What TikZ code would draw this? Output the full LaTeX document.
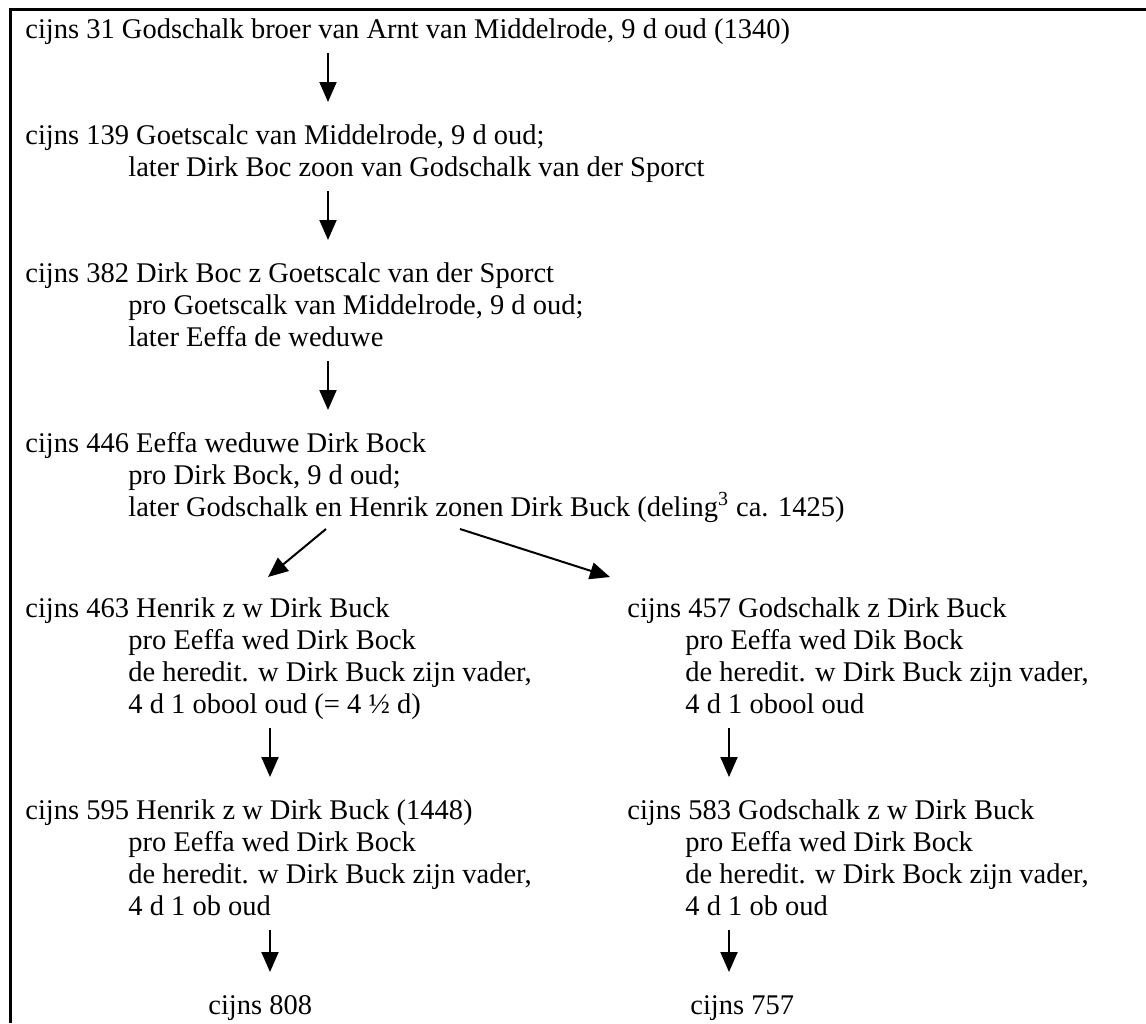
\documentclass[tikz,border=0pt]{standalone}
\usepackage{fontspec}
\setmainfont{Liberation Serif}
\usetikzlibrary{arrows.meta}
\begin{document}
\begin{tikzpicture}[x=0.5pt,y=-0.5pt,
  ln/.style={anchor=base west, inner sep=0pt, font=\fontsize{14.25}{16}\selectfont},
  arr/.style={line width=1pt, -{Triangle[length=10pt,width=8.5pt]}}]
\useasboundingbox (0,0) rectangle (1146,1023);
\draw[line width=1.5pt] (10,1023) -- (10,9.5) -- (1146,9.5);
% block 1
\node[ln] (l1) at (25,38) {cijns 31 Godschalk broer van Arnt van Middelrode, 9 d oud (1340)};
% block 2
\node[ln] (b2a) at (25,144) {cijns 139 Goetscalc van Middelrode, 9 d oud;};
\node[ln] (b2b) at (128,176) {later Dirk Boc zoon van Godschalk van der Sporct};
% block 3
\node[ln] (b3a) at (25,282) {cijns 382 Dirk Boc z Goetscalc van der Sporct};
\node[ln] (b3b) at (128,314) {pro Goetscalk van Middelrode, 9 d oud;};
\node[ln] (b3c) at (128,346) {later Eeffa de weduwe};
% block 4
\node[ln] (b4a) at (25,452) {cijns 446 Eeffa weduwe Dirk Bock};
\node[ln] (b4b) at (128,484) {pro Dirk Bock, 9 d oud;};
\node[ln] (b4c) at (128,516) {later Godschalk en Henrik zonen Dirk Buck (deling\textsuperscript{3} ca. 1425)};
% block 5 left
\node[ln] (b5la) at (25,617) {cijns 463 Henrik z w Dirk Buck};
\node[ln] (b5lb) at (128,649) {pro Eeffa wed Dirk Bock};
\node[ln] (b5lc) at (128,681) {de heredit. w Dirk Buck zijn vader,};
\node[ln] (b5ld) at (128,713) {4 d 1 obool oud (= 4 ½ d)};
% block 5 right
\node[ln] (b5ra) at (627,617) {cijns 457 Godschalk z Dirk Buck};
\node[ln] (b5rb) at (685,649) {pro Eeffa wed Dik Bock};
\node[ln] (b5rc) at (685,681) {de heredit. w Dirk Buck zijn vader,};
\node[ln] (b5rd) at (685,713) {4 d 1 obool oud};
% block 6 left
\node[ln] (b6la) at (25,819) {cijns 595 Henrik z w Dirk Buck (1448)};
\node[ln] (b6lb) at (128,851) {pro Eeffa wed Dirk Bock};
\node[ln] (b6lc) at (128,883) {de heredit. w Dirk Buck zijn vader,};
\node[ln] (b6ld) at (128,915) {4 d 1 ob oud};
% block 6 right
\node[ln] (b6ra) at (627,819) {cijns 583 Godschalk z w Dirk Buck};
\node[ln] (b6rb) at (685,851) {pro Eeffa wed Dirk Bock};
\node[ln] (b6rc) at (685,883) {de heredit. w Dirk Bock zijn vader,};
\node[ln] (b6rd) at (685,915) {4 d 1 ob oud};
% final
\node[ln] (f1) at (208,1014) {cijns 808};
\node[ln] (f2) at (690,1014) {cijns 757};
% arrow end points
\coordinate (a1s) at (328,53);  \coordinate (a1e) at (328,102);
\coordinate (a2s) at (328,191); \coordinate (a2e) at (328,240);
\coordinate (a3s) at (328,361); \coordinate (a3e) at (328,410);
\coordinate (dls) at (326,529); \coordinate (dle) at (268,577);
\coordinate (drs) at (460,529); \coordinate (dre) at (610,577);
\coordinate (l5s) at (270,728); \coordinate (l5e) at (270,777);
\coordinate (r5s) at (729,728); \coordinate (r5e) at (729,777);
\coordinate (l6s) at (270,930); \coordinate (l6e) at (270,972);
\coordinate (r6s) at (729,930); \coordinate (r6e) at (729,972);
\draw[arr] (a1s) -- (a1e);
\draw[arr] (a2s) -- (a2e);
\draw[arr] (a3s) -- (a3e);
\draw[arr] (dls) -- (dle);
\draw[arr] (drs) -- (dre);
\draw[arr] (l5s) -- (l5e);
\draw[arr] (r5s) -- (r5e);
\draw[arr] (l6s) -- (l6e);
\draw[arr] (r6s) -- (r6e);
\end{tikzpicture}
\end{document}
